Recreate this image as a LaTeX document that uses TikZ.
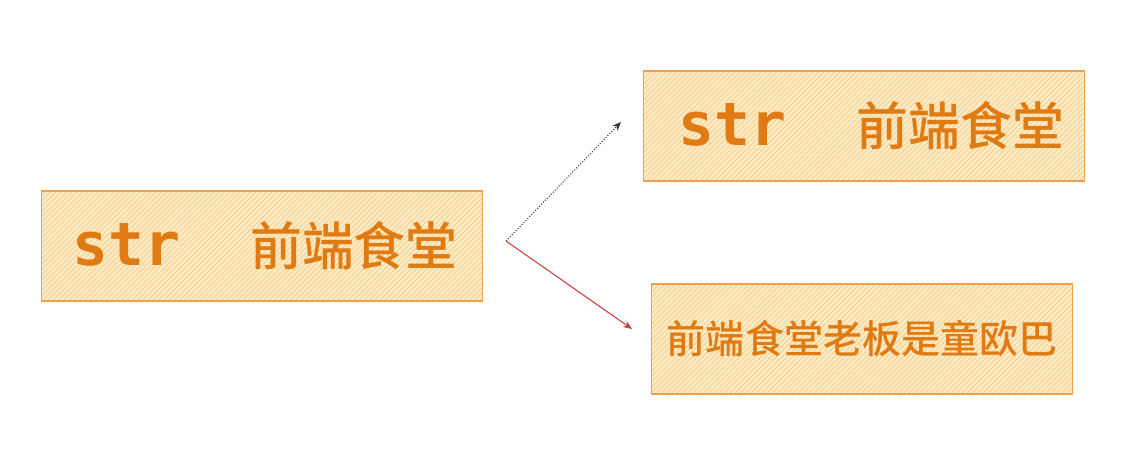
\documentclass[tikz,border=0pt]{standalone}
\usepackage{fontspec}
\newfontfamily\cjk{Noto Sans CJK SC}[BoldFont={* Medium}]
\newfontfamily\monofont{DejaVu Sans Mono}
\usetikzlibrary{patterns,arrows.meta}
\definecolor{boxline}{HTML}{F0A04B}
\definecolor{boxfill}{HTML}{FDEBC6}
\definecolor{hatch}{HTML}{F5CB85}
\definecolor{ink}{HTML}{E07A12}
\definecolor{redline}{HTML}{C8403C}
\begin{document}
\begin{tikzpicture}[x=0.02cm,y=-0.02cm,
  card/.style={draw=boxline,line width=0.9pt,preaction={fill=boxfill},
    pattern=north east lines,pattern color=hatch,text=ink,inner sep=0pt},
  tip/.style={-{Stealth[length=5pt,width=4pt]},line width=0.6pt}]
\useasboundingbox (0,0) rectangle (1148,464);
\node[card,minimum width=8.82cm,minimum height=2.2cm] (src) at (262,246)
  {\hspace{0.12cm}\monofont\bfseries\fontsize{34}{34}\selectfont str\hspace{1.4cm}{\cjk\bfseries\fontsize{29.5}{29.5}\selectfont 前端食堂}};
\node[card,minimum width=8.82cm,minimum height=2.2cm] (copy) at (864,126)
  {\hspace{0.3cm}\monofont\bfseries\fontsize{34}{34}\selectfont str\hspace{1.4cm}{\cjk\bfseries\fontsize{29.5}{29.5}\selectfont 前端食堂}};
\node[card,minimum width=8.42cm,minimum height=2.2cm] (value) at (862,339)
  {\raisebox{-0.07cm}{\cjk\bfseries\fontsize{22.2}{22.2}\selectfont 前端食堂老板是童欧巴}};
\coordinate (fork) at (506,241);
\coordinate (up) at (621,122);
\coordinate (down) at (632,329);
\draw[tip,densely dotted,black!80] (fork) -- (up);
\draw[tip,redline] (fork) -- (down);
\end{tikzpicture}
\end{document}
